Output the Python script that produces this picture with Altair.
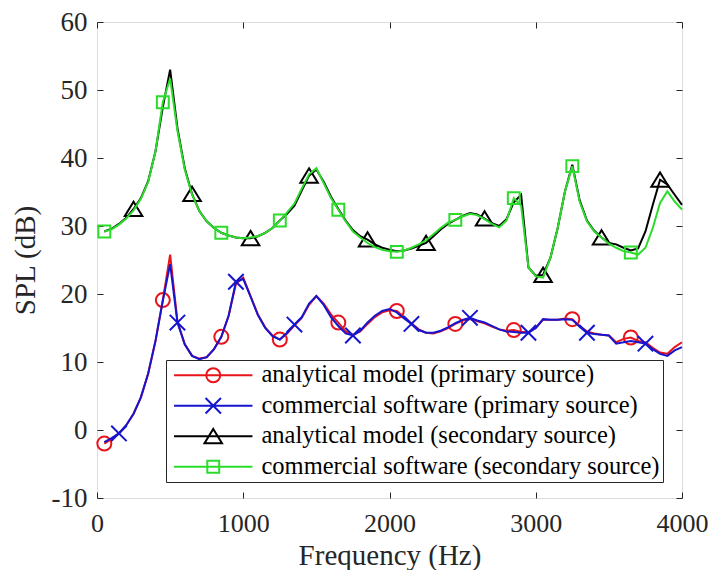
import altair as alt
import pandas as pd

# ---------------- data ----------------
freq = list(range(50, 4001, 50))

spl_analytical_primary = [
    -2.0, -1.3, -0.5, 0.7, 2.4, 4.8, 8.3, 13.1, 19.1, 25.8,
    16.0, 12.6, 10.9, 10.5, 10.7, 11.9, 13.7, 16.8, 21.5, 22.4,
    19.7, 17.0, 15.1, 13.9, 13.3, 14.2, 15.4, 16.5, 18.4, 19.7,
    18.6, 17.0, 15.8, 14.5, 14.0, 14.5, 15.6, 16.6, 17.3, 17.6,
    17.5, 16.6, 15.7, 14.8, 14.3, 14.2, 14.5, 15.0, 15.6, 16.1,
    16.3, 16.0, 15.7, 15.2, 14.8, 14.6, 14.7, 14.4, 14.4, 15.0,
    16.2, 16.2, 16.2, 16.4, 16.3, 15.3, 14.5, 14.2, 14.0, 13.9,
    12.9, 13.4, 13.6, 13.1, 12.9, 12.1, 11.4, 11.2, 12.2, 12.9,
]
spl_software_primary = [
    -1.8, -1.2, -0.5, 0.7, 2.4, 4.8, 8.3, 13.1, 19.0, 24.4,
    15.8, 12.6, 10.9, 10.4, 10.7, 11.9, 13.7, 16.8, 21.8, 22.2,
    19.6, 16.9, 15.0, 13.8, 13.3, 14.3, 15.5, 16.6, 18.6, 19.7,
    18.4, 16.6, 15.3, 14.2, 13.9, 14.6, 15.8, 16.8, 17.5, 17.8,
    17.3, 16.4, 15.6, 14.7, 14.3, 14.3, 14.6, 15.1, 15.7, 16.2,
    16.5, 16.1, 15.8, 15.3, 14.8, 14.5, 14.4, 14.3, 14.3, 15.0,
    16.3, 16.2, 16.2, 16.3, 16.2, 15.2, 14.3, 14.1, 14.0, 13.9,
    12.7, 12.9, 13.1, 12.9, 12.7, 11.9, 11.2, 10.9, 11.7, 12.2,
]
spl_analytical_secondary = [
    29.2, 29.6, 30.3, 31.2, 32.5, 34.1, 36.6, 41.0, 47.5, 53.0,
    44.4, 38.5, 34.7, 32.2, 30.7, 29.7, 29.0, 28.6, 28.3, 28.2,
    28.2, 28.5, 29.0, 29.7, 30.8, 31.8, 33.0, 35.2, 37.4, 38.3,
    36.5, 34.3, 32.5, 30.8, 29.4, 28.5, 28.0, 27.3, 26.8, 26.5,
    26.3, 26.4, 26.7, 27.1, 27.5, 28.5, 29.5, 30.3, 30.9, 31.5,
    31.9, 31.7, 31.1, 30.4, 30.0, 31.0, 33.5, 34.6, 23.9, 22.7,
    22.8, 25.3, 29.7, 35.1, 39.0, 33.8, 30.8, 29.3, 28.3, 27.5,
    27.3, 26.8, 26.4, 26.7, 29.2, 33.1, 36.8, 36.1, 34.6, 33.1,
]
spl_software_secondary = [
    29.2, 29.5, 30.2, 31.1, 32.3, 34.0, 36.5, 41.0, 48.2, 51.7,
    44.0, 38.3, 34.6, 32.2, 30.7, 29.7, 29.0, 28.6, 28.3, 28.2,
    28.3, 28.5, 29.0, 29.7, 30.8, 32.0, 33.3, 35.5, 37.6, 38.5,
    36.3, 34.1, 32.4, 30.7, 29.2, 28.3, 27.5, 26.9, 26.5, 26.3,
    26.2, 26.4, 26.8, 27.3, 27.9, 28.8, 29.7, 30.5, 30.9, 31.4,
    31.8, 31.6, 31.0, 30.3, 29.8, 30.8, 34.1, 33.0, 23.9, 22.6,
    22.4, 25.3, 29.7, 35.1, 38.8, 33.6, 30.7, 29.2, 28.3, 27.4,
    26.8, 26.3, 26.1, 25.8, 26.8, 29.7, 33.4, 35.1, 33.6, 32.4,
]

series_names = [
    "analytical model (primary source)",
    "commercial software (primary source)",
    "analytical model (secondary source)",
    "commercial software (secondary source)",
]
series_values = [spl_analytical_primary, spl_software_primary,
                 spl_analytical_secondary, spl_software_secondary]
series_colors = ["#e8141c", "#1515d0", "#000000", "#2bdc2b"]
marker_start = [50, 150, 250, 50]
marker_step = 400

x_ticks = [0, 1000, 2000, 3000, 4000]
y_ticks = [-10, 0, 10, 20, 30, 40, 50, 60]

# marker glyphs (unit paths), and legend glyphs = line + marker
marker_paths = [
    "M1,0A1,1 0 1,1 -1,0A1,1 0 1,1 1,0Z",
    "M-1.1,-1.1L1.1,1.1M-1.1,1.1L1.1,-1.1",
    "M0,-1.05L1.25,1L-1.25,1Z",
    "M-0.85,-0.85H0.85V0.85H-0.85Z",
]
legend_paths = ["M-5.6,0H5.6" + p for p in marker_paths]

# ---------------- tables ----------------
rows = []
for name, vals, start in zip(series_names, series_values, marker_start):
    for f, v in zip(freq, vals):
        rows.append({"series": name, "f": f, "spl": v,
                     "marker": (f - start) % marker_step == 0})
df = pd.DataFrame(rows)

FONT = "Liberation Serif"
AX = "#262626"
xscale = alt.Scale(domain=[0, 4000], nice=False, zero=False)
yscale = alt.Scale(domain=[-10, 60], nice=False, zero=False)
dash = [6, 3000]

axis_bottom = alt.Axis(orient="bottom", values=x_ticks, labelExpr="'' + datum.value",
                       labelFont=FONT, labelFontSize=26, labelColor=AX, labelPadding=12,
                       labelFlush=False, labelOverlap=False,
                       ticks=False, domain=False, grid=True, gridDash=dash,
                       gridColor=AX, gridWidth=1, gridOpacity=1,
                       title="Frequency (Hz)", titleFont=FONT, titleFontSize=29,
                       titleFontWeight="normal", titleColor=AX, titlePadding=5)
axis_left = alt.Axis(orient="left", values=y_ticks, labelExpr="'' + datum.value",
                     labelFont=FONT, labelFontSize=27, labelColor=AX, labelPadding=10,
                     labelFlush=False, labelOverlap=False,
                     ticks=False, domain=False, grid=True, gridDash=dash,
                     gridColor=AX, gridWidth=1, gridOpacity=1,
                     title="SPL (dB)", titleFont=FONT, titleFontSize=29,
                     titleFontWeight="normal", titleColor=AX, titlePadding=11)
axis_top = alt.Axis(orient="top", values=x_ticks, labels=False, ticks=False, domain=False,
                    grid=True, gridDash=dash, gridColor=AX, gridWidth=1, gridOpacity=1,
                    title=None)
axis_right = alt.Axis(orient="right", values=y_ticks, labels=False, ticks=False, domain=False,
                      grid=True, gridDash=dash, gridColor=AX, gridWidth=1, gridOpacity=1,
                      title=None)

layers = []
for i, (name, color, path) in enumerate(zip(series_names, series_colors, marker_paths)):
    sub = df[df["series"] == name]
    line = alt.Chart(sub).mark_line(color=color, strokeWidth=2).encode(
        x=alt.X("f:Q", scale=xscale, axis=axis_bottom if i == 0 else None),
        y=alt.Y("spl:Q", scale=yscale, axis=axis_left if i == 0 else None),
    )
    pts = alt.Chart(sub[sub["marker"]]).mark_point(
        shape=path, filled=False, color=color, strokeWidth=2, size=196, opacity=1
    ).encode(
        x=alt.X("f:Q", scale=xscale, axis=axis_top if i == 0 else None),
        y=alt.Y("spl:Q", scale=yscale, axis=axis_right if i == 0 else None),
    )
    layers += [line, pts]

legend_layer = alt.Chart(df[df["marker"]]).mark_point(filled=False, opacity=0, size=196).encode(
    x=alt.X("f:Q", scale=xscale, axis=None),
    y=alt.Y("spl:Q", scale=yscale, axis=None),
    color=alt.Color("series:N", scale=alt.Scale(domain=series_names, range=series_colors),
                    legend=alt.Legend(title=None, orient="none", legendX=69, legendY=338,
                                      direction="vertical", labelFont=FONT, labelFontSize=24.5,
                                      labelColor="#000000", labelLimit=800,
                                      symbolSize=196, symbolStrokeWidth=2, symbolOpacity=1,
                                      symbolOffset=32, labelOffset=36, padding=3,
                                      rowPadding=5.5, strokeColor=AX, fillColor="white",
                                      cornerRadius=0)),
    shape=alt.Shape("series:N", scale=alt.Scale(domain=series_names, range=legend_paths)),
)
layers.append(legend_layer)

chart = alt.layer(*layers).resolve_axis(x="independent", y="independent").properties(
    width=585, height=476,
    autosize=alt.AutoSizeParams(type="none"),
    padding={"left": 89, "top": 14, "right": 26, "bottom": 72},
).configure_view(stroke=AX, strokeWidth=1).configure(background="white")

chart.save("out.html", embed_options={"renderer": "svg", "actions": False})
